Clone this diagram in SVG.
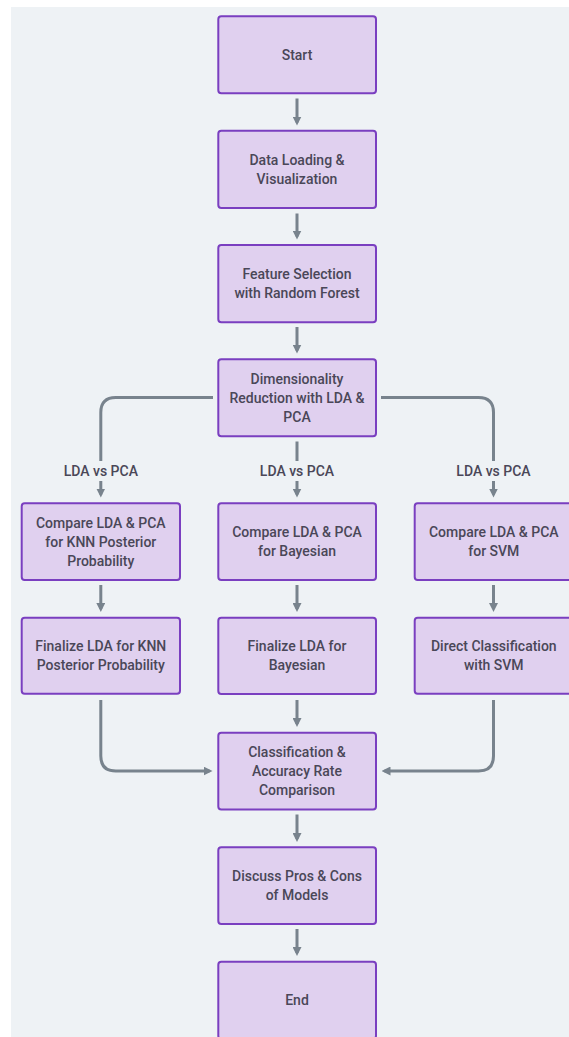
<svg xmlns="http://www.w3.org/2000/svg" width="569" height="1037" viewBox="0 0 569 1037">
  <style>
    .node rect { fill: #e0d0ef; stroke: #7a3fc0; stroke-width: 2; }
    .node text, .lbl text { font-family: Roboto, "Liberation Sans", sans-serif; font-size: 14px; font-weight: 500; fill: #4a4758; text-anchor: middle; }
    .edge { fill: none; stroke: #78838d; stroke-width: 3; }
    .lbl rect { fill: #eef2f5; }
  </style>
  <defs>
    <marker id="ah" markerUnits="userSpaceOnUse" viewBox="0 0 9 9" markerWidth="9" markerHeight="9" refX="6" refY="4.5" orient="auto">
      <path d="M0,0 L9,4.5 L0,9 z" fill="#78838d"/>
    </marker>
  </defs>
  <rect x="0" y="0" width="569" height="1037" fill="#ffffff"/>
  <rect x="11" y="7" width="558" height="1030" fill="#eef2f5"/>

  <g id="connectors">
    <path class="edge" d="M297,98.5 V122.5" marker-end="url(#ah)"/>
    <path class="edge" d="M297,213.5 V236.5" marker-end="url(#ah)"/>
    <path class="edge" d="M297,327 V350.5" marker-end="url(#ah)"/>
    <path class="edge" d="M213,397.5 H115.8 Q100.8,397.5 100.8,412.5 V494.5" marker-end="url(#ah)"/>
    <path class="edge" d="M297,441.5 V494.5" marker-end="url(#ah)"/>
    <path class="edge" d="M381,397.5 H478.5 Q493.5,397.5 493.5,412.5 V494.5" marker-end="url(#ah)"/>
    <path class="edge" d="M100.8,585 V609" marker-end="url(#ah)"/>
    <path class="edge" d="M297,585 V609" marker-end="url(#ah)"/>
    <path class="edge" d="M493.5,585 V609" marker-end="url(#ah)"/>
    <path class="edge" d="M100.8,700 V756 Q100.8,771 115.8,771 H209.5" marker-end="url(#ah)"/>
    <path class="edge" d="M297,700 V724" marker-end="url(#ah)"/>
    <path class="edge" d="M493.5,700 V756 Q493.5,771 478.5,771 H384.5" marker-end="url(#ah)"/>
    <path class="edge" d="M297,814.5 V839" marker-end="url(#ah)"/>
    <path class="edge" d="M297,929 V953" marker-end="url(#ah)"/>
    <g class="lbl">
      <rect x="63" y="461" width="76" height="20"/>
      <text x="100.8" y="475.7">LDA vs PCA</text>
      <rect x="259" y="461" width="76" height="20"/>
      <text x="297" y="475.7">LDA vs PCA</text>
      <rect x="455.5" y="461" width="76" height="20"/>
      <text x="493.5" y="475.7">LDA vs PCA</text>
    </g>
  </g>

  <g id="start" class="node">
    <rect x="218.3" y="16.3" width="157.7" height="77" rx="3"/>
    <text x="297" y="60">Start</text>
  </g>
  <g id="data" class="node">
    <rect x="218.3" y="130.7" width="157.7" height="77.3" rx="3"/>
    <text x="297" y="165">Data Loading &amp;</text>
    <text x="297" y="184">Visualization</text>
  </g>
  <g id="feature" class="node">
    <rect x="218.3" y="245" width="157.7" height="77.3" rx="3"/>
    <text x="297" y="279">Feature Selection</text>
    <text x="297" y="298">with Random Forest</text>
  </g>
  <g id="dim" class="node">
    <rect x="218.3" y="359.3" width="157.7" height="77" rx="3"/>
    <text x="297" y="384">Dimensionality</text>
    <text x="297" y="403">Reduction with LDA &amp;</text>
    <text x="297" y="422">PCA</text>
  </g>
  <g id="cmpknn" class="node">
    <rect x="21.7" y="503.3" width="158.3" height="76.7" rx="3"/>
    <text x="100.8" y="528">Compare LDA &amp; PCA</text>
    <text x="100.8" y="547">for KNN Posterior</text>
    <text x="100.8" y="566">Probability</text>
  </g>
  <g id="cmpbayes" class="node">
    <rect x="218.3" y="503.3" width="157.7" height="76.7" rx="3"/>
    <text x="297" y="537">Compare LDA &amp; PCA</text>
    <text x="297" y="556">for Bayesian</text>
  </g>
  <g id="cmpsvm" class="node">
    <rect x="414.7" y="503.3" width="158.3" height="76.7" rx="3"/>
    <text x="493.8" y="537">Compare LDA &amp; PCA</text>
    <text x="493.8" y="556">for SVM</text>
  </g>
  <g id="finknn" class="node">
    <rect x="21.7" y="617.7" width="158.3" height="76" rx="3"/>
    <text x="100.8" y="651">Finalize LDA for KNN</text>
    <text x="100.8" y="670">Posterior Probability</text>
  </g>
  <g id="finbayes" class="node">
    <rect x="218.3" y="617.7" width="157.7" height="76.3" rx="3"/>
    <text x="297" y="651">Finalize LDA for</text>
    <text x="297" y="670">Bayesian</text>
  </g>
  <g id="directsvm" class="node">
    <rect x="414.7" y="617.7" width="158.3" height="76" rx="3"/>
    <text x="493.8" y="651">Direct Classification</text>
    <text x="493.8" y="670">with SVM</text>
  </g>
  <g id="classify" class="node">
    <rect x="218.3" y="732.7" width="157.7" height="76.7" rx="3"/>
    <text x="297" y="757">Classification &amp;</text>
    <text x="297" y="776">Accuracy Rate</text>
    <text x="297" y="795">Comparison</text>
  </g>
  <g id="discuss" class="node">
    <rect x="218.3" y="847.3" width="157.7" height="76.7" rx="3"/>
    <text x="297" y="881">Discuss Pros &amp; Cons</text>
    <text x="297" y="900">of Models</text>
  </g>
  <g id="end" class="node">
    <rect x="218.3" y="961.7" width="157.7" height="77" rx="3"/>
    <text x="297" y="1005">End</text>
  </g>
</svg>
